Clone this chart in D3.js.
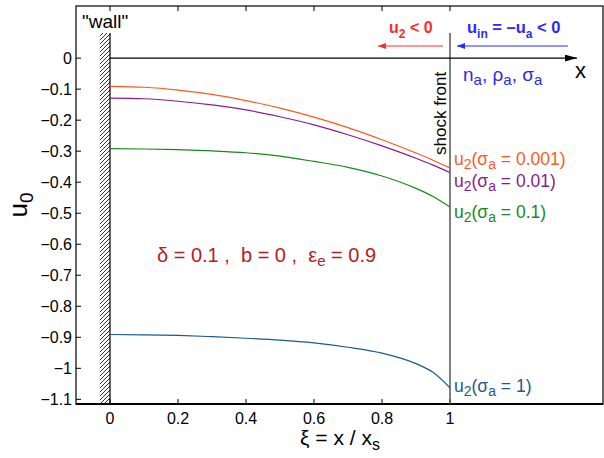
<!DOCTYPE html>
<html>
<head>
<meta charset="utf-8">
<script src="https://cdn.jsdelivr.net/npm/d3@7"></script>
<style>
  body { margin: 0; background: #fff; }
  svg text { font-family: "Liberation Sans", Arial, sans-serif; }
</style>
</head>
<body>
<div id="chart"></div>
<script>
// xi positions where the curves were read
var xi = [0, 0.1, 0.2, 0.3, 0.4, 0.5, 0.6, 0.7, 0.8, 0.9, 0.95, 1];
// u2 curves for each sigma_a
var uS0001 = [-0.091, -0.094, -0.103, -0.117, -0.137, -0.161, -0.190, -0.224, -0.263, -0.306, -0.329, -0.354];
var uS001  = [-0.129, -0.131, -0.139, -0.151, -0.167, -0.189, -0.215, -0.247, -0.283, -0.323, -0.345, -0.369];
var uS01   = [-0.292, -0.293, -0.295, -0.299, -0.305, -0.316, -0.333, -0.352, -0.380, -0.420, -0.446, -0.480];
var uS1    = [-0.891, -0.892, -0.894, -0.898, -0.903, -0.909, -0.918, -0.932, -0.951, -0.985, -1.013, -1.063];

var xTicks = [0, 0.2, 0.4, 0.6, 0.8, 1];
var yTicks = [0, -0.1, -0.2, -0.3, -0.4, -0.5, -0.6, -0.7, -0.8, -0.9, -1, -1.1];

var series = [
  {vals: uS0001, color: "#ff5a1e", sig: "0.001"},
  {vals: uS001,  color: "#8c1c8c", sig: "0.01"},
  {vals: uS01,   color: "#17891a", sig: "0.1"},
  {vals: uS1,    color: "#1a5a8e", sig: "1"}
];
var labelBase = [165, 187, 218, 392]; // label baselines (px)

var W = 604, H = 458;
var x = d3.scaleLinear().domain([-0.1, 1.45]).range([76, 603]);
var y = d3.scaleLinear().domain([0.168, -1.115]).range([6, 404]);

var svg = d3.select("#chart").append("svg").attr("width", W).attr("height", H);

var defs = svg.append("defs");
var pat = defs.append("pattern").attr("id", "hatch")
  .attr("patternUnits", "userSpaceOnUse").attr("width", 4).attr("height", 4);
pat.append("path").attr("d", "M-1,1 L1,-1 M0,4 L4,0 M3,5 L5,3")
  .attr("stroke", "#000").attr("stroke-width", 0.8);

// frame
svg.append("rect").attr("x", x(-0.1)).attr("y", y(0.168))
  .attr("width", x(1.45) - x(-0.1)).attr("height", y(-1.115) - y(0.168))
  .attr("fill", "none").attr("stroke", "#333").attr("stroke-width", 1.5);
svg.append("line").attr("x1", x(-0.1)).attr("x2", x(1.45))
  .attr("y1", y(-1.115)).attr("y2", y(-1.115))
  .attr("stroke", "#000").attr("stroke-width", 2);

// ticks (inward)
var tickG = svg.append("g").attr("stroke", "#000").attr("stroke-width", 1);
xTicks.forEach(function(t) {
  tickG.append("line").attr("x1", x(t)).attr("x2", x(t)).attr("y1", y(-1.115)).attr("y2", y(-1.115) - 5);
  tickG.append("line").attr("x1", x(t)).attr("x2", x(t)).attr("y1", y(0.168)).attr("y2", y(0.168) + 5);
});
yTicks.forEach(function(t) {
  tickG.append("line").attr("x1", x(-0.1)).attr("x2", x(-0.1) + 5).attr("y1", y(t)).attr("y2", y(t));
});

function fmt(t) { return t === 0 ? "0" : d3.format(".1~f")(t).replace("-", "\u2212"); }

svg.append("g").selectAll("text").data(xTicks).enter().append("text")
  .attr("x", function(d) { return x(d); }).attr("y", 424)
  .attr("text-anchor", "middle").attr("font-size", 16).text(function(d) { return fmt(d); });
svg.append("g").selectAll("text").data(yTicks).enter().append("text")
  .attr("x", 72).attr("y", function(d) { return y(d) + 6; })
  .attr("text-anchor", "end").attr("font-size", 16).text(function(d) { return fmt(d); });

// axis labels
var yl = svg.append("text").attr("transform", "translate(27,205) rotate(-90)")
  .attr("text-anchor", "middle").attr("font-size", 26);
yl.append("tspan").text("u");
yl.append("tspan").attr("dy", 6).attr("font-size", 19).text("0");

var xl = svg.append("text").attr("x", 340).attr("y", 445).attr("text-anchor", "middle").attr("font-size", 21);
xl.append("tspan").text("\u03be = x / x");
xl.append("tspan").attr("dy", 5).attr("font-size", 16).text("s");

// wall
svg.append("rect").attr("x", x(-0.03)).attr("y", 33).attr("width", x(0) - x(-0.03))
  .attr("height", y(-1.115) - 33).attr("fill", "url(#hatch)");
svg.append("line").attr("x1", x(0)).attr("x2", x(0)).attr("y1", 33).attr("y2", y(-1.115))
  .attr("stroke", "#000").attr("stroke-width", 1.2);
svg.append("text").attr("x", 82).attr("y", 28).attr("font-size", 19).text("\"wall\"");

// shock front
svg.append("line").attr("x1", x(1)).attr("x2", x(1)).attr("y1", 33).attr("y2", y(-1.115))
  .attr("stroke", "#555").attr("stroke-width", 1.5);
svg.append("text").attr("transform", "translate(446,155) rotate(-90)")
  .attr("font-size", 17).text("shock front");

// horizontal x axis with arrow
defs.append("marker").attr("id", "arrK").attr("viewBox", "0 0 12 7").attr("refX", 12).attr("refY", 3.5)
  .attr("markerWidth", 12).attr("markerHeight", 7).attr("markerUnits", "userSpaceOnUse").attr("orient", "auto")
  .append("path").attr("d", "M0,0 L12,3.5 L0,7 Z").attr("fill", "#000");
svg.append("line").attr("x1", x(0)).attr("x2", 577).attr("y1", y(0)).attr("y2", y(0))
  .attr("stroke", "#000").attr("stroke-width", 1.2).attr("marker-end", "url(#arrK)");
svg.append("text").attr("x", 575).attr("y", 78).attr("font-size", 22).text("x");

// flow arrows
function arrowMarker(id, c) {
  defs.append("marker").attr("id", id).attr("viewBox", "0 0 8 6").attr("refX", 8).attr("refY", 3)
    .attr("markerWidth", 8).attr("markerHeight", 6).attr("markerUnits", "userSpaceOnUse").attr("orient", "auto")
    .append("path").attr("d", "M0,0 L8,3 L0,6 Z").attr("fill", c);
}
arrowMarker("arrR", "#ff2a2a");
arrowMarker("arrB", "#2a2aff");
svg.append("line").attr("x1", 443).attr("x2", 378).attr("y1", 46).attr("y2", 46)
  .attr("stroke", "#ff2a2a").attr("stroke-width", 1.2).attr("marker-end", "url(#arrR)");
svg.append("line").attr("x1", 568).attr("x2", 457).attr("y1", 46).attr("y2", 46)
  .attr("stroke", "#2a2aff").attr("stroke-width", 1.2).attr("marker-end", "url(#arrB)");

var rt = svg.append("text").attr("x", 389).attr("y", 33).attr("font-size", 16)
  .attr("font-weight", "bold").attr("fill", "#ff2a2a");
rt.append("tspan").text("u");
rt.append("tspan").attr("dy", 5).attr("font-size", 12).text("2");
rt.append("tspan").attr("dy", -5).text(" < 0");

var bt = svg.append("text").attr("x", 467).attr("y", 33).attr("font-size", 16.5)
  .attr("font-weight", "bold").attr("fill", "#2a2aff");
bt.append("tspan").text("u");
bt.append("tspan").attr("dy", 5).attr("font-size", 12).text("in");
bt.append("tspan").attr("dy", -5).text(" = \u2013u");
bt.append("tspan").attr("dy", 5).attr("font-size", 12).text("a");
bt.append("tspan").attr("dy", -5).text(" < 0");

var nt = svg.append("text").attr("x", 463).attr("y", 81).attr("font-size", 19).attr("fill", "#2a2ae0");
[["n", "a"], ["\u03c1", "a"], ["\u03c3", "a"]].forEach(function(p, i) {
  nt.append("tspan").attr("dy", i === 0 ? 0 : -4).text((i === 0 ? "" : ", ") + p[0]);
  nt.append("tspan").attr("dy", 4).attr("font-size", 15).text(p[1]);
});

// parameters text
var pt = svg.append("text").attr("x", 157).attr("y", 262).attr("font-size", 20)
  .attr("fill", "#b81c1c").attr("xml:space", "preserve").style("white-space", "pre");
pt.append("tspan").text("\u03b4 = 0.1 ,  b = 0 ,  \u03b5");
pt.append("tspan").attr("dy", 4).attr("font-size", 15).text("e");
pt.append("tspan").attr("dy", -4).text(" = 0.9");

// curves
var line = d3.line().x(function(d) { return x(d[0]); }).y(function(d) { return y(d[1]); })
  .curve(d3.curveMonotoneX);
series.forEach(function(s, i) {
  svg.append("path").datum(xi.map(function(v, j) { return [v, s.vals[j]]; }))
    .attr("d", line).attr("fill", "none").attr("stroke", s.color).attr("stroke-width", 1.2);
  var t = svg.append("text").attr("x", 454).attr("y", labelBase[i])
    .attr("font-size", 17.5).attr("fill", s.color);
  t.append("tspan").text("u");
  t.append("tspan").attr("dy", 4).attr("font-size", 14).text("2");
  t.append("tspan").attr("dy", -4).text("(\u03c3");
  t.append("tspan").attr("dy", 4).attr("font-size", 14).text("a");
  t.append("tspan").attr("dy", -4).text(" = " + s.sig + ")");
});
</script>
</body>
</html>
